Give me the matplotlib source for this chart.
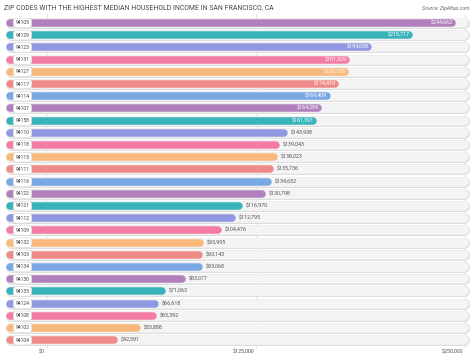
import matplotlib.pyplot as plt

# ------------------------
# DATA
# ------------------------

zips = ["94105", "94129", "94123", "94131", "94127", "94117", "94114", "94107", "94158",
        "94110", "94118", "94115", "94111", "94116", "94122", "94121", "94112", "94109",
        "94132", "94103", "94134", "94130", "94133", "94124", "94108", "94102", "94104"]

income = [244662, 218717, 194098, 181329, 180768, 174419, 169409, 164289, 161391,
          143938, 139043, 138023, 135736, 134652, 130798, 116970, 112795, 104476,
          93995, 93143, 93068, 83077, 71063, 66618, 65392, 55888, 42591]

palette = ["#b07fbc", "#37b3ba", "#8f98e0", "#f37ba6", "#f9b97a", "#ee8b88", "#7aa8e4"]

ticks = [0, 125000, 250000]
tick_labels = ["$0", "$125,000", "$250,000"]

# ------------------------
# LAYOUT (pixel helpers)
# ------------------------

plt.rcParams["font.family"] = ["Roboto", "DejaVu Sans"]

W, H, DPI = 474, 359, 100
x0_px, x1_px = 47, 465          # where $0 and $250,000 sit
per_px = 250000 / (x1_px - x0_px)
row0, step = 23, 12.2           # row centres in pixels


def xd(px):
    return (px - x0_px) * per_px


fig = plt.figure(figsize=(W / DPI, H / DPI), dpi=DPI)
fig.patch.set_facecolor("white")
ax = fig.add_axes([0, 0, 1, 1])
ax.set_xlim(xd(0), xd(W))
ax.set_ylim((H - row0) / step, -row0 / step)
ax.axis("off")

pt = 72 / DPI
bar_px, track_px = 7.5, 10.0

# grid lines
ax.vlines(ticks, -0.75, len(zips) - 0.35, color="#dcdcdc", lw=0.6, zorder=0)

for i, (z, v) in enumerate(zip(zips, income)):
    c = palette[i % len(palette)]
    # background track with thin border
    ax.plot([xd(6 + track_px / 2), xd(469 - track_px / 2)], [i, i], color="#dedede",
            lw=(track_px + 1) * pt, solid_capstyle="round", zorder=1)
    ax.plot([xd(6 + track_px / 2), xd(469 - track_px / 2)], [i, i], color="#f4f4f4",
            lw=(track_px - 0.4) * pt, solid_capstyle="round", zorder=1)
    # bar
    ax.plot([xd(6 + bar_px / 2), v - (bar_px / 2) * per_px], [i, i], color=c,
            lw=bar_px * pt, solid_capstyle="round", zorder=2)
    # zip badge
    ax.text(xd(22.5), i, z, ha="center", va="center", fontsize=3.6, color="#444444", zorder=4,
            bbox=dict(boxstyle="round,pad=0.45,rounding_size=0.6", fc="white", ec="#d8d8d8", lw=0.4))
    # value label
    lab = "${:,}".format(v)
    if v > 150000:
        ax.text(v - 3 * per_px, i, lab, ha="right", va="center", fontsize=3.9,
                color="white", zorder=3)
    else:
        ax.text(v + 3 * per_px, i, lab, ha="left", va="center", fontsize=3.9,
                color="#555555", zorder=3)

for t, l in zip(ticks, tick_labels):
    ax.text(t - 2 * per_px, (352 - row0) / step, l, ha="right", va="center",
            fontsize=3.9, color="#555555")

fig.text(4 / W, 1 - 7.5 / H, "ZIP CODES WITH THE HIGHEST MEDIAN HOUSEHOLD INCOME IN SAN FRANCISCO, CA",
         ha="left", va="center", fontsize=4.95, color="#444444")
fig.text(1 - 4 / W, 1 - 8.5 / H, "Source: ZipAtlas.com", ha="right", va="center",
         fontsize=3.7, color="#666666", style="italic")

fig.savefig("out.png", dpi=DPI)
